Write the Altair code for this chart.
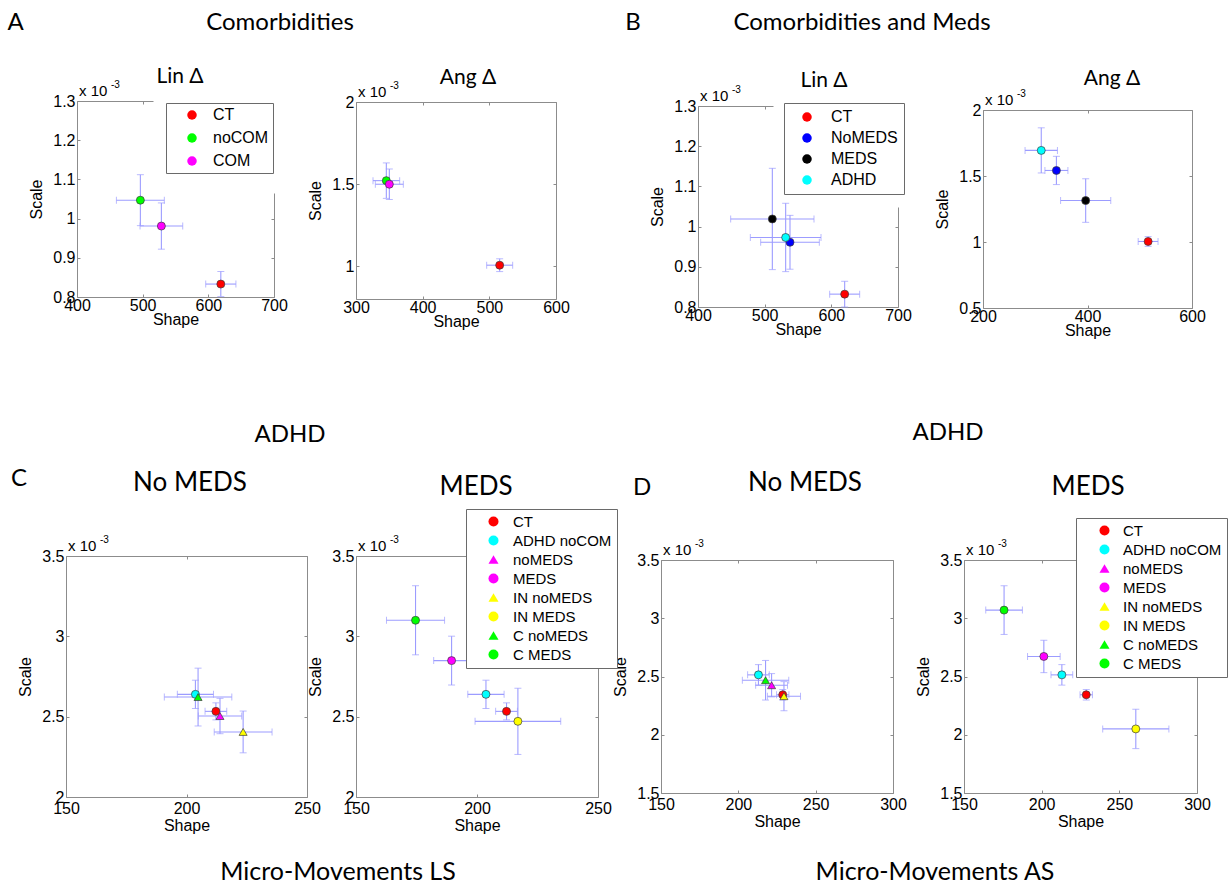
import altair as alt
import pandas as pd

W, H = 1232, 888
AXIS_FONT = "Liberation Sans"
HEAD_FONT = "Lato"
ERR_COLOR = "#9c9cff"
BOX_COLOR = "#8c8c8c"
EDGE_COLOR = "#3c3c3c"

# ---------------- data (Scale values in units of 1e-3) ----------------
AB_COM_GROUPS = ["CT", "noCOM", "COM"]
AB_COM_COLORS = ["#ff0000", "#00ff00", "#ff00ff"]
AB_MEDS_GROUPS = ["CT", "NoMEDS", "MEDS", "ADHD"]
AB_MEDS_COLORS = ["#ff0000", "#0000ff", "#000000", "#00ffff"]

A_LIN_GROUP = ["CT", "noCOM", "COM"]
A_LIN_SHAPE = [619.0, 496.5, 528.5]
A_LIN_SCALE = [0.833, 1.047, 0.981]
A_LIN_SHAPE_ERR = [23.0, 36.5, 32.5]
A_LIN_SCALE_ERR = [0.032, 0.065, 0.059]

A_ANG_GROUP = ["CT", "noCOM", "COM"]
A_ANG_SHAPE = [515.5, 345.5, 350.0]
A_ANG_SCALE = [1.006, 1.521, 1.499]
A_ANG_SHAPE_ERR = [19.5, 20.0, 21.0]
A_ANG_SCALE_ERR = [0.039, 0.108, 0.093]

B_LIN_GROUP = ["CT", "NoMEDS", "MEDS", "ADHD"]
B_LIN_SHAPE = [620.0, 538.0, 511.5, 531.5]
B_LIN_SCALE = [0.832, 0.961, 1.019, 0.973]
B_LIN_SHAPE_ERR = [22.5, 44.0, 62.5, 53.0]
B_LIN_SCALE_ERR = [0.032, 0.067, 0.126, 0.085]

B_ANG_GROUP = ["CT", "NoMEDS", "MEDS", "ADHD"]
B_ANG_SHAPE = [516.0, 340.5, 396.5, 311.5]
B_ANG_SCALE = [1.004, 1.542, 1.314, 1.694]
B_ANG_SHAPE_ERR = [19.0, 22.0, 48.0, 31.0]
B_ANG_SCALE_ERR = [0.037, 0.107, 0.165, 0.171]

CD_GROUPS = ["CT", "ADHD noCOM", "noMEDS", "MEDS", "IN noMEDS", "IN MEDS", "C noMEDS", "C MEDS"]
CD_COLORS = ["#ff0000", "#00ffff", "#ff00ff", "#ff00ff", "#ffff00", "#ffff00", "#00ff00", "#00ff00"]
CD_SYMBOLS = ["circle", "circle", "triangle-up", "circle", "triangle-up", "circle", "triangle-up", "circle"]

C_NO_GROUP = ["CT", "ADHD noCOM", "noMEDS", "IN noMEDS", "C noMEDS"]
C_NO_SHAPE = [212.2, 203.7, 213.9, 223.5, 204.8]
C_NO_SCALE = [2.533, 2.639, 2.504, 2.405, 2.622]
C_NO_SHAPE_ERR = [4.5, 7.5, 9.0, 12.0, 14.0]
C_NO_SCALE_ERR = [0.053, 0.088, 0.110, 0.130, 0.180]

C_MEDS_GROUP = ["CT", "ADHD noCOM", "MEDS", "IN MEDS", "C MEDS"]
C_MEDS_SHAPE = [212.2, 203.7, 189.5, 216.9, 174.6]
C_MEDS_SCALE = [2.533, 2.639, 2.849, 2.471, 3.100]
C_MEDS_SHAPE_ERR = [4.5, 7.5, 7.4, 17.7, 12.0]
C_MEDS_SCALE_ERR = [0.053, 0.088, 0.152, 0.206, 0.215]

D_NO_GROUP = ["CT", "ADHD noCOM", "noMEDS", "IN noMEDS", "C noMEDS"]
D_NO_SHAPE = [228.7, 213.0, 221.5, 229.5, 217.6]
D_NO_SCALE = [2.343, 2.514, 2.425, 2.331, 2.468]
D_NO_SHAPE_ERR = [4.0, 7.0, 10.3, 10.7, 15.0]
D_NO_SCALE_ERR = [0.045, 0.088, 0.100, 0.125, 0.170]

D_MEDS_GROUP = ["CT", "ADHD noCOM", "MEDS", "IN MEDS", "C MEDS"]
D_MEDS_SHAPE = [228.7, 213.0, 201.4, 260.6, 175.8]
D_MEDS_SCALE = [2.343, 2.514, 2.672, 2.050, 3.070]
D_MEDS_SHAPE_ERR = [4.0, 7.0, 10.5, 21.3, 11.8]
D_MEDS_SCALE_ERR = [0.045, 0.088, 0.139, 0.169, 0.209]

# header / title texts
HEADERS = ["A", "Comorbidities", "B", "Comorbidities and Meds",
           "ADHD", "ADHD", "C", "D", "Micro-Movements LS", "Micro-Movements AS"]


def text_layer(label, x, y, size, font=HEAD_FONT, align="center"):
    return alt.Chart(pd.DataFrame({"t": [label]})).mark_text(
        align=align, baseline="alphabetic", font=font, fontSize=size, color="black"
    ).encode(text="t:N", x=alt.value(x), y=alt.value(y))


def make_legend(x, y, pad, sym_off, lab_off, row_pad, fsize, ssize):
    return alt.Legend(
        orient="none", legendX=x, legendY=y, title=None,
        fillColor="white", strokeColor="#6a6a6a", padding=pad,
        symbolOffset=sym_off, labelOffset=lab_off, rowPadding=row_pad,
        labelFontSize=fsize, labelFont=AXIS_FONT, labelColor="black",
        symbolSize=ssize, symbolStrokeWidth=0.7, symbolStrokeColor=EDGE_COLOR,
        symbolOpacity=1,
    )


def frame_axis(orient, offset, values):
    # box edge with small inward ticks (MATLAB style)
    return alt.Axis(orient=orient, offset=offset, values=values, labels=False, title=None,
                    domain=True, ticks=True, tickSize=3, tickColor=BOX_COLOR, tickWidth=1)


def panel_layers(group, shape, scale, shape_err, scale_err, *, domain, colors, symbols,
                 box, xdom, ydom, xticks, yticks, title, title_xy, title_size,
                 legend, xlab_pad, xtitle_pad, top_end=None, right_start=None):
    left, top, right, bottom = box
    top_end = right if top_end is None else top_end
    right_start = top if right_start is None else right_start
    df = pd.DataFrame({"group": group, "shape": shape, "scale": scale,
                       "shape_err": shape_err, "scale_err": scale_err})
    df["shape_lo"] = df["shape"] - df["shape_err"]
    df["shape_hi"] = df["shape"] + df["shape_err"]
    df["scale_lo"] = df["scale"] - df["scale_err"]
    df["scale_hi"] = df["scale"] + df["scale_err"]

    xs = alt.Scale(domain=xdom, range=[left, right], nice=False, zero=False)
    ys = alt.Scale(domain=ydom, range=[bottom, top], nice=False, zero=False)

    # visible part of the top / right box edges
    x_cut = xdom[0] + (xdom[1] - xdom[0]) * (top_end - left) / (right - left)
    y_cut = ydom[0] + (ydom[1] - ydom[0]) * (bottom - right_start) / (bottom - top)
    xs_top = alt.Scale(domain=[xdom[0], x_cut], range=[left, top_end], nice=False, zero=False)
    ys_right = alt.Scale(domain=[ydom[0], y_cut], range=[bottom, right_start], nice=False, zero=False)

    ax_bottom = alt.Axis(orient="bottom", offset=bottom - H, values=xticks, format="~r",
                         title="Shape", labelPadding=xlab_pad, titlePadding=xtitle_pad,
                         domain=False, ticks=False)
    ax_left = alt.Axis(orient="left", offset=-left, values=yticks, format="~r",
                       title="Scale", labelPadding=2, titlePadding=8,
                       domain=False, ticks=False)

    def X(f, axis=None, sc=xs):
        return alt.X(f, type="quantitative", scale=sc, axis=axis)

    def Y(f, axis=None, sc=ys):
        return alt.Y(f, type="quantitative", scale=sc, axis=axis)

    base = alt.Chart(df)
    # invisible layers that carry the four box edges with inward ticks
    frame_lb = base.mark_point(opacity=0).encode(
        x=X("shape", frame_axis("top", -bottom, xticks)),
        y=Y("scale", frame_axis("right", left - W, yticks)))
    frame_tr = base.mark_point(opacity=0).encode(
        x=X("shape", frame_axis("bottom", top - H, [v for v in xticks if v <= x_cut]), xs_top),
        y=Y("scale", frame_axis("left", -right, [v for v in yticks if v <= y_cut]), ys_right))

    hbar = base.mark_rule(color=ERR_COLOR, strokeWidth=1.1).encode(
        x=X("shape_lo"), x2="shape_hi", y=Y("scale"))
    vbar = base.mark_rule(color=ERR_COLOR, strokeWidth=1.1).encode(
        x=X("shape"), y=Y("scale_lo"), y2="scale_hi")
    vcap = base.transform_fold(["scale_lo", "scale_hi"], as_=["end", "scale_end"]).mark_tick(
        orient="horizontal", size=7, thickness=1, color=ERR_COLOR).encode(
        x=X("shape"), y=Y("scale_end:Q"))
    hcap = base.transform_fold(["shape_lo", "shape_hi"], as_=["end", "shape_end"]).mark_tick(
        orient="vertical", size=7, thickness=1, color=ERR_COLOR).encode(
        x=X("shape_end:Q"), y=Y("scale"))
    pts = base.mark_point(filled=True, size=64, opacity=1, stroke=EDGE_COLOR,
                          strokeWidth=0.7).encode(
        x=X("shape", ax_bottom), y=Y("scale", ax_left),
        color=alt.Color("group:N", scale=alt.Scale(domain=domain, range=colors), legend=legend),
        shape=alt.Shape("group:N", scale=alt.Scale(domain=domain, range=symbols), legend=legend),
    )
    exp1 = text_layer("x 10", left + 2, top - 5, 15, font=AXIS_FONT, align="left")
    exp2 = text_layer("-3", left + 34, top - 13, 10, font=AXIS_FONT, align="left")
    ttl = text_layer(title, title_xy[0], title_xy[1], title_size)
    return [frame_lb, frame_tr, hbar, vbar, hcap, vcap, pts, exp1, exp2, ttl]


TOP = dict(xlab_pad=0, xtitle_pad=-2)
BOT = dict(xlab_pad=3, xtitle_pad=1)

layers = []
layers += panel_layers(A_LIN_GROUP, A_LIN_SHAPE, A_LIN_SCALE, A_LIN_SHAPE_ERR, A_LIN_SCALE_ERR,
                       domain=AB_COM_GROUPS, colors=AB_COM_COLORS, symbols=["circle"] * 3,
                       box=(77, 101, 274, 297), xdom=[400, 700], ydom=[0.8, 1.3],
                       xticks=[400, 500, 600, 700], yticks=[0.8, 0.9, 1.0, 1.1, 1.2, 1.3],
                       title="Lin Δ", title_xy=(180, 83), title_size=21,
                       legend=make_legend(166, 103, 4, 14, 13, 7, 16, 90),
                       top_end=153, right_start=193, **TOP)
layers += panel_layers(A_ANG_GROUP, A_ANG_SHAPE, A_ANG_SCALE, A_ANG_SHAPE_ERR, A_ANG_SCALE_ERR,
                       domain=AB_COM_GROUPS, colors=AB_COM_COLORS, symbols=["circle"] * 3,
                       box=(356, 102, 556, 299), xdom=[300, 600], ydom=[0.8, 2.0],
                       xticks=[300, 400, 500, 600], yticks=[1.0, 1.5, 2.0],
                       title="Ang Δ", title_xy=(468, 84), title_size=21,
                       legend=None, **TOP)
layers += panel_layers(B_LIN_GROUP, B_LIN_SHAPE, B_LIN_SCALE, B_LIN_SHAPE_ERR, B_LIN_SCALE_ERR,
                       domain=AB_MEDS_GROUPS, colors=AB_MEDS_COLORS, symbols=["circle"] * 4,
                       box=(698, 106, 898, 307), xdom=[400, 700], ydom=[0.8, 1.3],
                       xticks=[400, 500, 600, 700], yticks=[0.8, 0.9, 1.0, 1.1, 1.2, 1.3],
                       title="Lin Δ", title_xy=(824, 87), title_size=21,
                       legend=make_legend(784, 103, 6, 9, 16, 5, 16, 90),
                       top_end=773, right_start=207, **TOP)
layers += panel_layers(B_ANG_GROUP, B_ANG_SHAPE, B_ANG_SCALE, B_ANG_SHAPE_ERR, B_ANG_SCALE_ERR,
                       domain=AB_MEDS_GROUPS, colors=AB_MEDS_COLORS, symbols=["circle"] * 4,
                       box=(983, 110, 1192, 308), xdom=[200, 600], ydom=[0.5, 2.0],
                       xticks=[200, 400, 600], yticks=[0.5, 1.0, 1.5, 2.0],
                       title="Ang Δ", title_xy=(1112, 85), title_size=21,
                       legend=None, **TOP)
layers += panel_layers(C_NO_GROUP, C_NO_SHAPE, C_NO_SCALE, C_NO_SHAPE_ERR, C_NO_SCALE_ERR,
                       domain=CD_GROUPS, colors=CD_COLORS, symbols=CD_SYMBOLS,
                       box=(66, 556, 307, 797), xdom=[150, 250], ydom=[2.0, 3.5],
                       xticks=[150, 200, 250], yticks=[2.0, 2.5, 3.0, 3.5],
                       title="No MEDS", title_xy=(190, 491), title_size=26,
                       legend=None, **BOT)
layers += panel_layers(C_MEDS_GROUP, C_MEDS_SHAPE, C_MEDS_SCALE, C_MEDS_SHAPE_ERR, C_MEDS_SCALE_ERR,
                       domain=CD_GROUPS, colors=CD_COLORS, symbols=CD_SYMBOLS,
                       box=(356, 556, 598, 797), xdom=[150, 250], ydom=[2.0, 3.5],
                       xticks=[150, 200, 250], yticks=[2.0, 2.5, 3.0, 3.5],
                       title="MEDS", title_xy=(476, 495), title_size=26,
                       legend=make_legend(466, 509, 5, 15, 12, 3, 15, 100), **BOT)
layers += panel_layers(D_NO_GROUP, D_NO_SHAPE, D_NO_SCALE, D_NO_SHAPE_ERR, D_NO_SCALE_ERR,
                       domain=CD_GROUPS, colors=CD_COLORS, symbols=CD_SYMBOLS,
                       box=(661, 560, 893, 793), xdom=[150, 300], ydom=[1.5, 3.5],
                       xticks=[150, 200, 250, 300], yticks=[1.5, 2.0, 2.5, 3.0, 3.5],
                       title="No MEDS", title_xy=(805, 491), title_size=26,
                       legend=None, **BOT)
layers += panel_layers(D_MEDS_GROUP, D_MEDS_SHAPE, D_MEDS_SCALE, D_MEDS_SHAPE_ERR, D_MEDS_SCALE_ERR,
                       domain=CD_GROUPS, colors=CD_COLORS, symbols=CD_SYMBOLS,
                       box=(964, 560, 1197, 793), xdom=[150, 300], ydom=[1.5, 3.5],
                       xticks=[150, 200, 250, 300], yticks=[1.5, 2.0, 2.5, 3.0, 3.5],
                       title="MEDS", title_xy=(1088, 495), title_size=26,
                       legend=make_legend(1076, 518, 5, 16, 11, 3, 15, 100), **BOT)

# figure-level headers
layers += [
    text_layer(HEADERS[0], 15.5, 30, 24),
    text_layer(HEADERS[1], 280, 30, 24),
    text_layer(HEADERS[2], 633, 30, 24),
    text_layer(HEADERS[3], 862, 30, 24),
    text_layer(HEADERS[4], 290, 442, 24),
    text_layer(HEADERS[5], 948, 440, 24),
    text_layer(HEADERS[6], 19, 486, 24),
    text_layer(HEADERS[7], 642, 495, 24),
    text_layer(HEADERS[8], 338, 880, 25),
    text_layer(HEADERS[9], 935, 880, 25),
]

chart = alt.layer(*layers).resolve_scale(
    x="independent", y="independent", color="independent", shape="independent"
).resolve_legend(
    color="independent", shape="independent"
).properties(
    width=W, height=H, padding=0, background="white",
    autosize=alt.AutoSizeParams(type="none"),
).configure_view(
    stroke=None
).configure_axis(
    labelFont=AXIS_FONT, titleFont=AXIS_FONT, labelFontSize=16, titleFontSize=16,
    labelColor="black", titleColor="black", titleFontWeight="normal",
    domainColor=BOX_COLOR, domainWidth=1, grid=False,
    labelFlush=False, labelOverlap=False,
)

chart.save("out.html", embed_options={"renderer": "svg", "actions": False})
